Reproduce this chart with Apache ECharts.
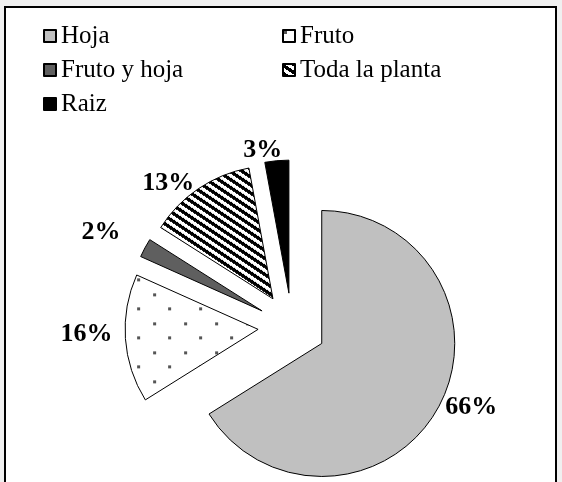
<!DOCTYPE html>
<html>
<head>
<meta charset="utf-8">
<script src="https://cdn.jsdelivr.net/npm/echarts@6/dist/echarts.min.js"></script>
<style>
html,body{margin:0;padding:0;background:#f0f0f0;}
#chart{position:absolute;left:0;top:0;width:562px;height:482px;}
</style>
</head>
<body>
<div id="chart"></div>
<script>
const categories = ['Hoja', 'Fruto', 'Fruto y hoja', 'Toda la planta', 'Raiz'];
const values = [66.1, 15.6, 2.3, 13.1, 2.9];
const legendCol1 = ['Hoja', 'Fruto y hoja', 'Raiz'];
const legendCol2 = ['Fruto', 'Toda la planta'];

function dotPattern() {
  const c = document.createElement('canvas');
  c.width = 31; c.height = 29;
  const g = c.getContext('2d');
  g.fillStyle = '#fff'; g.fillRect(0, 0, 31, 29);
  g.fillStyle = '#555555';
  g.fillRect(1, 1, 3, 3);
  g.fillRect(16, 15, 3, 3);
  return c;
}
function stripePattern() {
  const c = document.createElement('canvas');
  c.width = 12; c.height = 8;
  const g = c.getContext('2d');
  const img = g.createImageData(12, 8);
  for (let y = 0; y < 8; y++) {
    for (let x = 0; x < 12; x++) {
      const k = (((y - Math.floor(x * 2 / 3)) % 8) + 8) % 8;
      const v = k < 4 ? 0 : 255;
      const i = (y * 12 + x) * 4;
      img.data[i] = v; img.data[i + 1] = v; img.data[i + 2] = v; img.data[i + 3] = 255;
    }
  }
  g.putImageData(img, 0, 0);
  return c;
}

const fills = [
  '#c0c0c0',
  { image: dotPattern(), repeat: 'repeat' },
  '#5f5f5f',
  { image: stripePattern(), repeat: 'repeat' },
  '#000000'
];
// small nudges of the percentage labels (text placement only)
const labelNudge = [[-3, -4], [-2, -5], [-14, -13], [4, 0], [11, -4]];

const serif = 'Liberation Serif';
const chart = echarts.init(document.getElementById('chart'));

const legendBase = {
  orient: 'vertical',
  top: 23,
  padding: 0,
  itemWidth: 12,
  itemHeight: 12,
  itemGap: 8,
  icon: 'rect',
  selectedMode: false,
  textStyle: { fontFamily: serif, fontSize: 25, color: '#000', lineHeight: 26 }
};

chart.setOption({
  animation: false,
  backgroundColor: 'transparent',
  textStyle: { fontFamily: serif },
  graphic: [{
    type: 'rect',
    z: -1,
    shape: { x: 5, y: 7, width: 551, height: 490 },
    style: { fill: '#fff', stroke: '#000', lineWidth: 2 }
  }],
  legend: [
    Object.assign({}, legendBase, { left: 43, data: legendCol1 }),
    Object.assign({}, legendBase, { left: 282, data: legendCol2 })
  ],
  series: [{
    type: 'pie',
    center: [292, 327],
    radius: 133,
    startAngle: 90,
    clockwise: true,
    selectedMode: 'multiple',
    selectedOffset: 34,
    avoidLabelOverlap: false,
    emphasis: { disabled: true },
    itemStyle: { borderColor: '#000', borderWidth: 1 },
    label: {
      show: true,
      position: 'outside',
      fontFamily: serif,
      fontSize: 26,
      fontWeight: 'bold',
      color: '#000',
      formatter: p => Math.round(p.percent) + '%'
    },
    labelLine: { show: false, length: 6, length2: 0 },
    labelLayout: p => ({ dx: labelNudge[p.dataIndex][0], dy: labelNudge[p.dataIndex][1] }),
    data: categories.map((name, i) => ({
      name: name,
      value: values[i],
      selected: true,
      itemStyle: { color: fills[i] }
    }))
  }]
});
</script>
</body>
</html>
